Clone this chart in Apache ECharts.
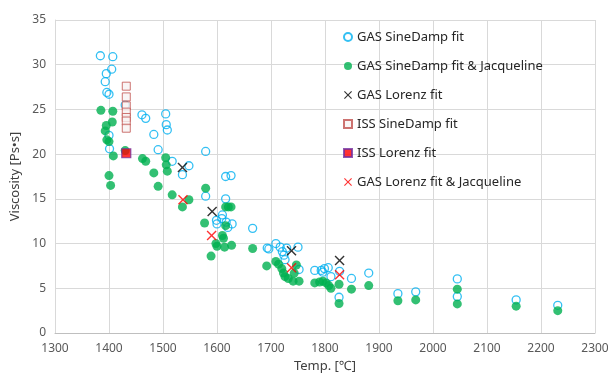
<!DOCTYPE html>
<html>
<head>
<meta charset="utf-8">
<script src="https://cdn.jsdelivr.net/npm/echarts@6/dist/echarts.min.js"></script>
<style>
    html, body { margin: 0; padding: 0; background: #fff; }
    #chart { width: 608px; height: 373px; }
</style>
</head>
<body>
<div id="chart"></div>
<script>
// 温度 [℃], 粘度 [Ps•s]
var gasSineDamp = [
    [1384, 31.0], [1407, 30.9], [1405, 29.5], [1395, 29.0], [1393, 28.1], [1396, 26.9],
    [1400, 26.7], [1430, 25.5], [1461, 24.4], [1468, 24.0], [1483, 22.2], [1400, 22.1],
    [1401, 20.6], [1491, 20.5], [1505, 24.5], [1506, 23.3], [1508, 22.7], [1579, 20.3],
    [1517, 19.2], [1548, 18.7], [1536, 17.7], [1616, 17.5], [1626, 17.6], [1579, 15.3],
    [1616, 15.0], [1610, 13.2], [1609, 12.8], [1599, 12.6], [1600, 12.2], [1617, 12.4],
    [1628, 12.2], [1620, 11.8], [1666, 11.7], [1693, 9.5], [1696, 9.4], [1709, 10.0],
    [1717, 9.6], [1721, 9.1], [1724, 8.7], [1729, 9.5], [1750, 9.6], [1726, 8.2],
    [1752, 7.1], [1781, 7.0], [1793, 7.0], [1799, 7.2], [1806, 7.3], [1796, 6.8],
    [1811, 6.3], [1827, 6.9], [1849, 6.1], [1826, 4.0], [1881, 6.7], [1935, 4.4],
    [1968, 4.6], [2045, 6.05], [2045, 4.07], [2154, 3.7], [2231, 3.1]
];
var gasSineDampJac = [
    [1385, 24.9], [1407, 24.8], [1406, 23.6], [1395, 23.2], [1393, 22.6], [1396, 21.6],
    [1400, 21.4], [1408, 19.8], [1430, 20.4], [1462, 19.5], [1468, 19.2], [1400, 17.6],
    [1403, 16.5], [1505, 19.6], [1506, 18.8], [1508, 18.1], [1483, 17.9], [1491, 16.4],
    [1517, 15.45], [1548, 14.9], [1536, 14.1], [1579, 16.2], [1616, 14.1], [1621, 14.1],
    [1626, 14.1], [1577, 12.3], [1616, 12.0], [1610, 10.9], [1612, 10.6], [1598, 10.0],
    [1600, 9.7], [1614, 9.6], [1627, 9.8], [1666, 9.45], [1589, 8.6], [1692, 7.5],
    [1709, 8.0], [1714, 7.7], [1720, 7.2], [1723, 6.7], [1726, 6.3], [1732, 6.1],
    [1741, 5.8], [1752, 5.8], [1743, 6.7], [1747, 7.6], [1781, 5.6], [1790, 5.7],
    [1796, 5.8], [1802, 5.6], [1807, 5.3], [1811, 5.0], [1826, 5.45], [1849, 4.9],
    [1826, 3.3], [1881, 5.3], [1935, 3.6], [1968, 3.7], [2045, 4.9], [2045, 3.25],
    [2154, 3.0], [2231, 2.5]
];
var gasLorenz = [[1536, 18.5], [1591, 13.6], [1738, 9.2], [1827, 8.1]];
var issSineDamp = [
    [1432, 27.6], [1432, 26.4], [1432, 25.4], [1432, 24.7], [1432, 24.1], [1432, 23.7], [1432, 22.9]
];
var issLorenz = [[1432, 20.1]];
var gasLorenzJac = [[1537, 14.9], [1590, 10.9], [1738, 7.3], [1827, 6.5]];

var seriesNames = [
    'GAS SineDamp fit',
    'GAS SineDamp fit & Jacqueline',
    'GAS Lorenz fit',
    'ISS SineDamp fit',
    'ISS Lorenz fit',
    'GAS Lorenz fit & Jacqueline'
];

var crossPath = 'path://M0,1L1,0L5,4L9,0L10,1L6,5L10,9L9,10L5,6L1,10L0,9L4,5Z';
var fontFamily = '"Noto Sans", "Noto Sans CJK JP", sans-serif';

var chart = echarts.init(document.getElementById('chart'));
var option = {
    animation: false,
    textStyle: { fontFamily: fontFamily },
    grid: {
        left: 55,
        right: 13,
        top: 20,
        bottom: 40,
        containLabel: false,
        outerBoundsMode: 'none'
    },
    legend: {
        orient: 'vertical',
        left: 338,
        top: 24,
        itemWidth: 8,
        itemHeight: 8,
        itemGap: 13,
        textStyle: {
            fontSize: 13,
            lineHeight: 16,
            color: '#262626',
            fontFamily: fontFamily
        },
        data: seriesNames
    },
    xAxis: {
        type: 'value',
        min: 1300,
        max: 2300,
        interval: 100,
        name: 'Temp. [℃]',
        nameLocation: 'middle',
        nameGap: 26,
        nameTextStyle: { fontSize: 13, color: '#404040' },
        axisLine: { show: true, lineStyle: { color: '#bfbfbf' } },
        axisTick: { show: false },
        axisLabel: {
            fontSize: 12,
            color: '#595959',
            margin: 10,
            formatter: function (v) { return String(v); }
        },
        splitLine: { show: true, lineStyle: { color: '#d9d9d9' } }
    },
    yAxis: {
        type: 'value',
        min: 0,
        max: 35,
        interval: 5,
        name: 'Viscosity [Ps•s]',
        nameLocation: 'middle',
        nameGap: 32,
        nameTextStyle: { fontSize: 13, color: '#404040' },
        axisLine: { show: true, lineStyle: { color: '#d9d9d9' } },
        axisTick: { show: false },
        axisLabel: { fontSize: 12, color: '#595959', margin: 9 },
        splitLine: { show: true, lineStyle: { color: '#d9d9d9' } }
    },
    series: [
        {
            name: seriesNames[0],
            type: 'scatter',
            symbol: 'circle',
            symbolSize: 8,
            data: gasSineDamp,
            itemStyle: {
                color: 'rgba(255,255,255,0)',
                borderColor: '#00b0f0',
                borderWidth: 1.3
            }
        },
        {
            name: seriesNames[1],
            type: 'scatter',
            symbol: 'circle',
            symbolSize: 9,
            data: gasSineDampJac,
            itemStyle: { color: '#00b050' }
        },
        {
            name: seriesNames[2],
            type: 'scatter',
            symbol: crossPath,
            symbolSize: 10,
            data: gasLorenz,
            itemStyle: { color: '#000000' }
        },
        {
            name: seriesNames[3],
            type: 'scatter',
            symbol: 'rect',
            symbolSize: 8,
            data: issSineDamp,
            itemStyle: {
                color: '#f7f2f2',
                borderColor: '#c0504d',
                borderWidth: 1
            }
        },
        {
            name: seriesNames[4],
            type: 'scatter',
            symbol: 'rect',
            symbolSize: 9,
            data: issLorenz,
            itemStyle: {
                color: '#ff0000',
                borderColor: '#7030a0',
                borderWidth: 1.2
            }
        },
        {
            name: seriesNames[5],
            type: 'scatter',
            symbol: crossPath,
            symbolSize: 10,
            data: gasLorenzJac,
            itemStyle: { color: '#ff0000' }
        }
    ]
};
chart.setOption(option);
</script>
</body>
</html>
